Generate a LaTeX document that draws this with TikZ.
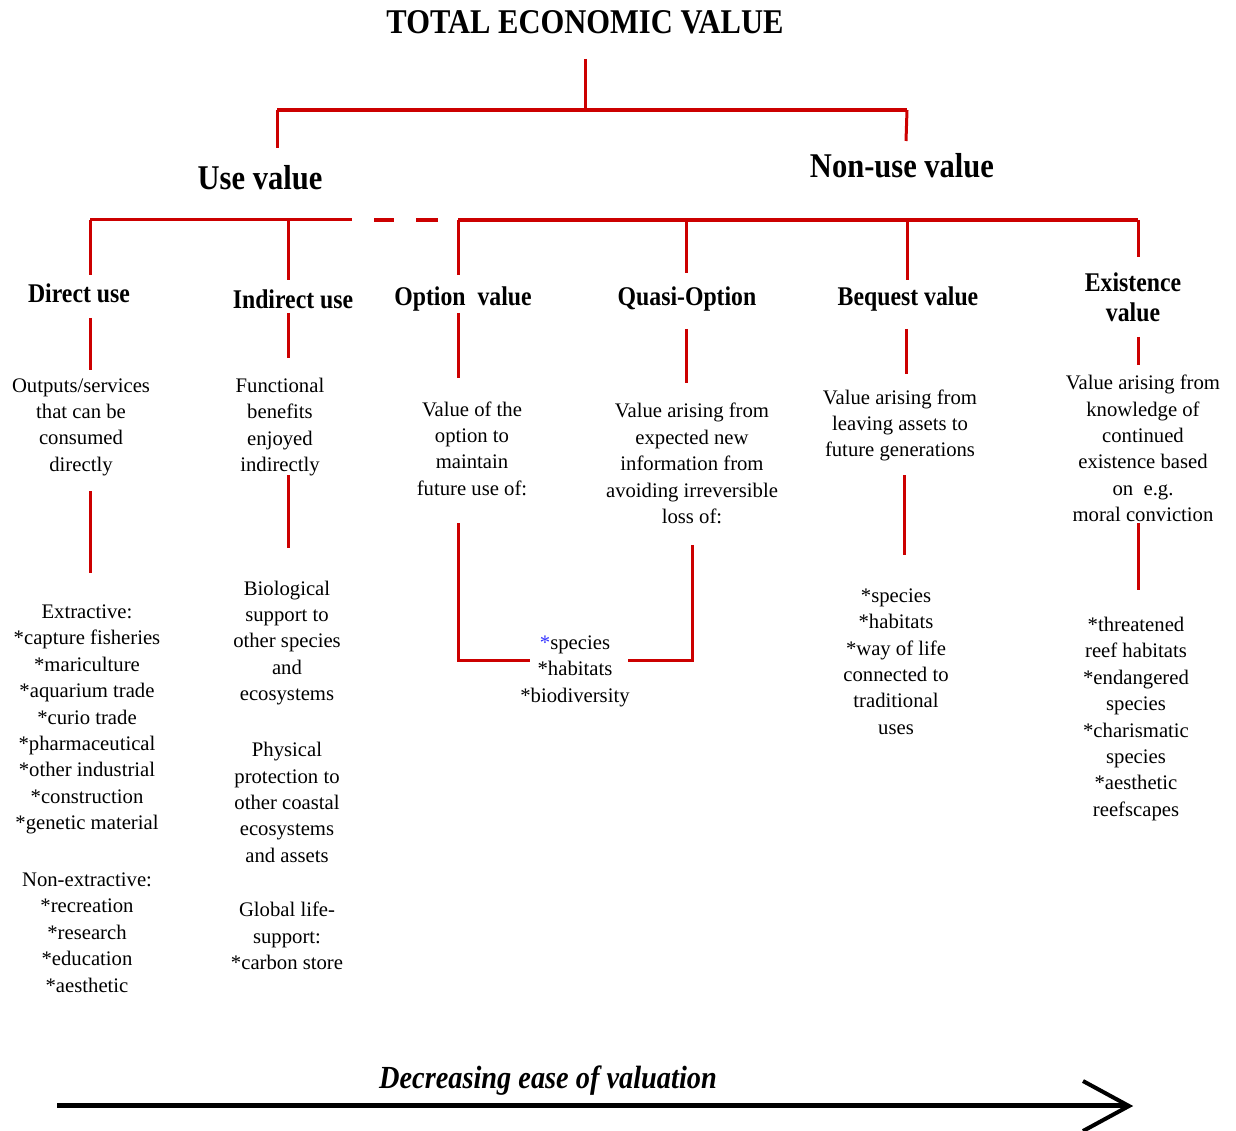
\documentclass[tikz,border=0pt]{standalone}
\usepackage{fontspec}
\setmainfont{Liberation Serif}
\newfontfamily\hfont[FakeStretch=0.88]{Liberation Serif}
\definecolor{tevred}{HTML}{CC0000}
\definecolor{tevblue}{HTML}{3333FF}
\begin{document}
\begin{tikzpicture}[x=1pt,y=-1pt,
  body/.style={font=\fontsize{20.7}{26.4}\selectfont, align=center, inner sep=0pt},
  head/.style={font=\hfont\bfseries\fontsize{27}{30}\selectfont, align=center, inner sep=0pt},
  big/.style={font=\hfont\bfseries\fontsize{34.7}{38}\selectfont, inner sep=0pt},
  redline/.style={draw=tevred, line width=3pt, line join=miter},
  redthick/.style={draw=tevred, line width=4pt},
]
\useasboundingbox (0,0) rectangle (1236,1131);

% titles
\node[big] (tev) at (585,22) {TOTAL ECONOMIC VALUE};
\node[big] (use) at (260,178) {Use value};
\node[big] (nonuse) at (902,166) {Non-use value};

% headings
\node[head] (hdir) at (79,293) {Direct use};
\node[head] (hind) at (293,299) {Indirect use};
\node[head] (hopt) at (463,299) {Option\ \ value};
\node[head] (hqua) at (687,299) {Quasi-Option};
\node[head] (hbeq) at (908,299) {Bequest value};
\node[head] (hexi) at (1133,297) {Existence\\value};

% descriptions
\node[body] (d1) at (81,427) {Outputs/services\\that can be\\consumed\\directly};
\node[body] (i1) at (280,427) {Functional\\benefits\\enjoyed\\indirectly};
\node[body] (o1) at (472,448.5) {Value of the\\option to\\maintain\\future use of:};
\node[body] (q1) at (692,463.5) {Value arising from\\expected new\\information from\\avoiding irreversible\\loss of:};
\node[body] (b1) at (900,425.5) {Value arising from\\leaving assets to\\future generations};
\node[body] (e1) at (1143,448.5) {Value arising from\\knowledge of\\continued\\existence based\\on\ \ e.g.\\moral conviction};

% lists
\node[body] (d2) at (87,719.5) {Extractive:\\*capture fisheries\\*mariculture\\*aquarium trade\\*curio trade\\*pharmaceutical\\*other industrial\\*construction\\*genetic material};
\node[body] (d3) at (87,932.5) {Non-extractive:\\*recreation\\*research\\*education\\*aesthetic};
\node[body] (i2) at (287,643) {Biological\\support to\\other species\\and\\ecosystems};
\node[body] (i3) at (287,802.5) {Physical\\protection to\\other coastal\\ecosystems\\and assets};
\node[body] (i4) at (287,936) {Global life-\\support:\\*carbon store};
\node[body] (s1) at (575,671) {\textcolor{tevblue}{*}species\\*habitats\\*biodiversity};
\node[body] (b2) at (896,661.5) {*species\\*habitats\\*way of life\\connected to\\traditional\\uses};
\node[body] (e2) at (1136,719) {*threatened\\reef habitats\\*endangered\\species\\*charismatic\\species\\*aesthetic\\reefscapes};

% junction coordinates
\coordinate (t0) at (585,59);
\coordinate (t1) at (585,110);
\coordinate (tl) at (277,110);
\coordinate (tr) at (907,110);
\coordinate (tld) at (277,148);
\coordinate (trd) at (906,141);

% top tree
\draw[redline] (t0) -- (t1);
\draw[redthick] (tl) -- (tr);
\draw[redline] (tl) -- (tld);
\draw[redline] (tr) -- (trd);

% second level bar
\coordinate (bl) at (90,220);
\coordinate (bm) at (352,220);
\coordinate (bo) at (458,220);
\coordinate (br) at (1138,220);
\draw[redline] (bl) -- (bm);
\draw[draw=tevred, line width=3.5pt] (374,220) -- (394,220);
\draw[draw=tevred, line width=3.5pt] (416,220) -- (438,220);
\draw[redthick] (bo) -- (br);

% drops to headings
\draw[redline] (bl) -- (90,275);
\draw[redline] (288,220) -- (288,280);
\draw[redline] (bo) -- (458,275);
\draw[redline] (686,220) -- (686,273);
\draw[redline] (907,220) -- (907,280);
\draw[redline] (br) -- (1138,257);

% heading to description
\draw[redline] (90,318) -- (90,370);
\draw[redline] (288,313) -- (288,358);
\draw[redline] (458,313) -- (458,378);
\draw[redline] (686,329) -- (686,383);
\draw[redline] (906,329) -- (906,374);
\draw[redline] (1138,337) -- (1138,365);

% description to lists
\draw[redline] (90,491) -- (90,573);
\draw[redline] (288,475) -- (288,548);
\draw[redline] (458,523) -- (458,660) -- (530,660);
\draw[redline] (692,545) -- (692,660) -- (628,660);
\draw[redline] (904,475) -- (904,555);
\draw[redline] (1138,523) -- (1138,590);

% bottom arrow
\node[font=\hfont\bfseries\itshape\fontsize{32.2}{36}\selectfont, inner sep=0pt] (ease) at (548,1081) {Decreasing ease of valuation};
\coordinate (a0) at (57,1105);
\coordinate (a1) at (1126,1105);
\draw[line width=5pt] (a0) -- (a1);
\draw[line width=4pt, line join=miter] (1083,1081) -- (1129,1106) -- (1083,1131);
\end{tikzpicture}
\end{document}
